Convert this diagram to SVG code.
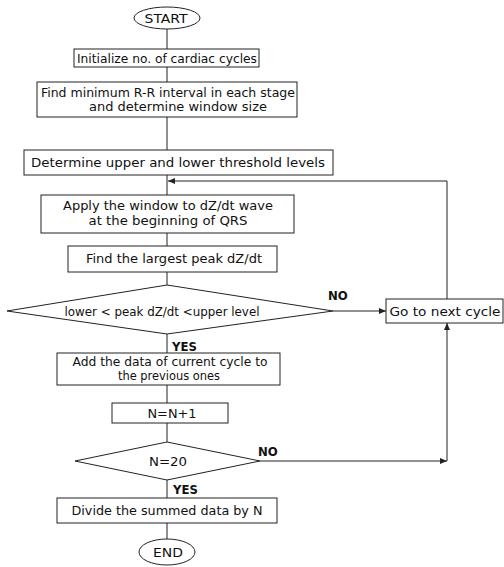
<svg xmlns="http://www.w3.org/2000/svg" width="504" height="567" viewBox="0 0 504 567">
<style>
.n{fill:#fff;stroke:#222;stroke-width:1}
.t{font-family:"DejaVu Sans Condensed","DejaVu Sans",sans-serif;font-size:13px;fill:#111;text-anchor:middle}
.b{font-family:"DejaVu Sans Condensed","DejaVu Sans",sans-serif;font-size:13px;font-weight:bold;fill:#111}
.c{fill:none;stroke:#222;stroke-width:1}
</style>
<defs>
<marker id="ah" markerWidth="7" markerHeight="6" refX="7" refY="3" orient="auto" markerUnits="userSpaceOnUse">
<path d="M0,0 L7,3 L0,6 z" fill="#222"/>
</marker>
</defs>
<rect width="504" height="567" fill="#fff"/>
<g id="connectors">
<line class="c" x1="167" y1="29" x2="167" y2="49"/>
<line class="c" x1="167" y1="67" x2="167" y2="82"/>
<line class="c" x1="167" y1="117" x2="167" y2="150"/>
<line class="c" x1="167" y1="175" x2="167" y2="195"/>
<line class="c" x1="167" y1="233" x2="167" y2="246"/>
<line class="c" x1="167" y1="272" x2="167" y2="285"/>
<line class="c" x1="167" y1="334" x2="167" y2="353"/>
<line class="c" x1="167" y1="385" x2="167" y2="403"/>
<line class="c" x1="167" y1="423" x2="167" y2="442"/>
<line class="c" x1="167" y1="480" x2="167" y2="498"/>
<line class="c" x1="167" y1="523" x2="167" y2="539"/>
<path class="c" d="M447,299 L447,181 L168,181" marker-end="url(#ah)"/>
<line class="c" x1="333" y1="311" x2="386" y2="311" marker-end="url(#ah)"/>
<line class="c" x1="260" y1="461" x2="447" y2="461" marker-end="url(#ah)"/>
<line class="c" x1="447" y1="461" x2="447" y2="323" marker-end="url(#ah)"/>
</g>
<g id="start">
<ellipse class="n" cx="167" cy="18" rx="33" ry="11"/>
<text class="t" x="166" y="23" textLength="43" lengthAdjust="spacingAndGlyphs">START</text>
</g>
<g id="init">
<rect class="n" x="74" y="49" width="185" height="18"/>
<text class="t" x="167" y="63" textLength="180" lengthAdjust="spacingAndGlyphs">Initialize no. of cardiac cycles</text>
</g>
<g id="findmin">
<rect class="n" x="37" y="82" width="260" height="35"/>
<text class="t" x="168" y="97" textLength="254" lengthAdjust="spacingAndGlyphs">Find minimum R-R interval in each stage</text>
<text class="t" x="178" y="111" textLength="178" lengthAdjust="spacingAndGlyphs">and determine window size</text>
</g>
<g id="threshold">
<rect class="n" x="24" y="150" width="309" height="25"/>
<text class="t" x="178" y="167" textLength="294" lengthAdjust="spacingAndGlyphs">Determine upper and lower threshold levels</text>
</g>
<g id="apply">
<rect class="n" x="41" y="195" width="253" height="38"/>
<text class="t" x="168" y="210" textLength="210" lengthAdjust="spacingAndGlyphs">Apply the window to dZ/dt wave</text>
<text class="t" x="168" y="225" textLength="159" lengthAdjust="spacingAndGlyphs">at the beginning of QRS</text>
</g>
<g id="largest">
<rect class="n" x="68" y="246" width="209" height="26"/>
<text class="t" x="174" y="263" textLength="176" lengthAdjust="spacingAndGlyphs">Find the largest peak dZ/dt</text>
</g>
<g id="decision1">
<polygon class="n" points="167,285 333,311 167,334 7,311"/>
<text class="t" x="162" y="316" textLength="195" lengthAdjust="spacingAndGlyphs">lower &lt; peak dZ/dt &lt;upper level</text>
<text class="b" x="328" y="300">NO</text>
<text class="b" x="172" y="351">YES</text>
</g>
<g id="next">
<rect class="n" x="386" y="299" width="117" height="24"/>
<text class="t" x="445" y="316" textLength="111" lengthAdjust="spacingAndGlyphs">Go to next cycle</text>
</g>
<g id="add">
<rect class="n" x="57" y="353" width="223" height="32"/>
<text class="t" x="170" y="366" textLength="195" lengthAdjust="spacingAndGlyphs">Add the data of current cycle to</text>
<text class="t" x="169" y="380" textLength="102" lengthAdjust="spacingAndGlyphs">the previous ones</text>
</g>
<g id="incr">
<rect class="n" x="112" y="403" width="116" height="20"/>
<text class="t" x="172" y="418" textLength="49" lengthAdjust="spacingAndGlyphs">N=N+1</text>
</g>
<g id="decision2">
<polygon class="n" points="167,442 260,461 167,480 75,461"/>
<text class="t" x="168" y="466" textLength="38" lengthAdjust="spacingAndGlyphs">N=20</text>
<text class="b" x="258" y="456">NO</text>
<text class="b" x="173" y="494">YES</text>
</g>
<g id="divide">
<rect class="n" x="57" y="498" width="220" height="25"/>
<text class="t" x="167" y="515" textLength="191" lengthAdjust="spacingAndGlyphs">Divide the summed data by N</text>
</g>
<g id="end">
<ellipse class="n" cx="167" cy="552" rx="28" ry="13"/>
<text class="t" x="168" y="557" textLength="30" lengthAdjust="spacingAndGlyphs">END</text>
</g>
</svg>
